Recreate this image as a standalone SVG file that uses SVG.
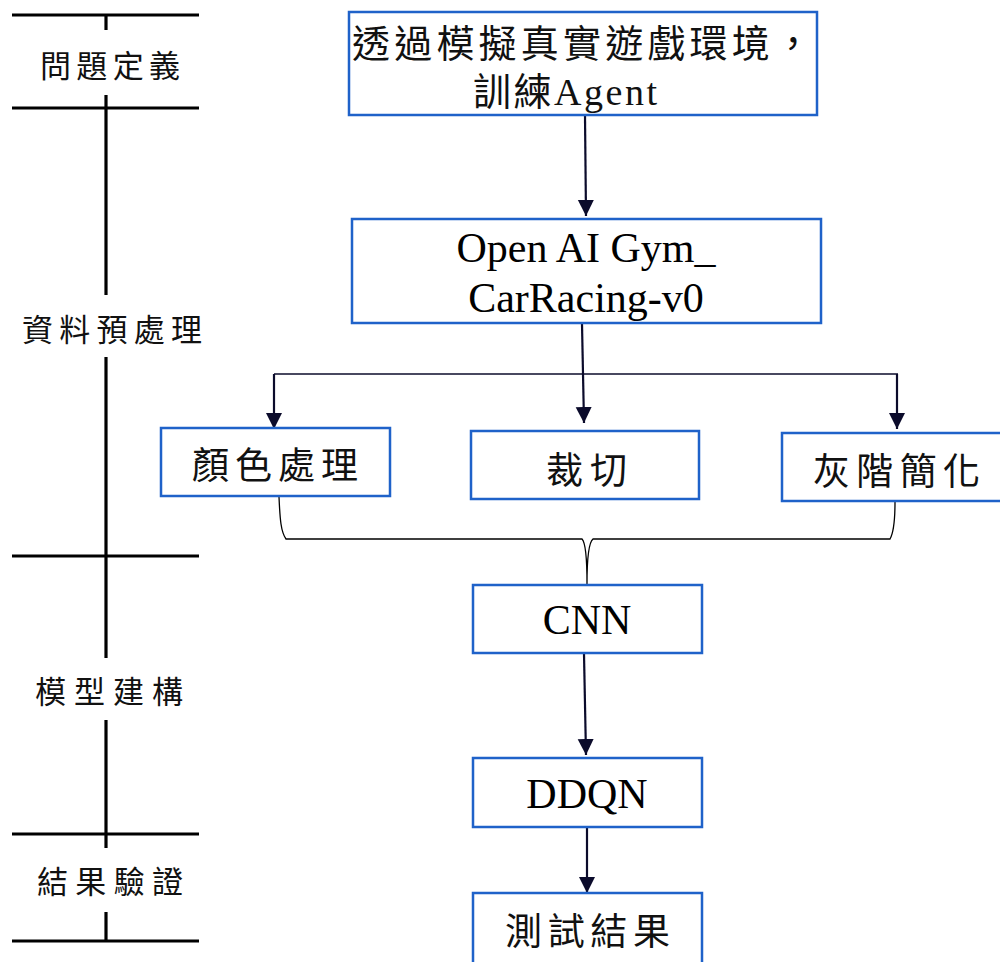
<svg xmlns="http://www.w3.org/2000/svg" width="1000" height="962" viewBox="0 0 1000 962">
  <style>
    .box { fill: #ffffff; stroke: #1f62c9; stroke-width: 2.5; }
    .t { font-family: "Liberation Serif", "Noto Sans CJK TC", serif; fill: #000000; }
    .cjk { font-family: "Liberation Serif", "Noto Sans CJK TC", sans-serif; fill: #111111; }
    .phase { font-family: "Noto Sans CJK TC", sans-serif; font-size: 31px; fill: #111111; }
    .axis { stroke: #000000; stroke-width: 3.2; fill: none; }
    .flow { stroke: #0b0b2b; stroke-width: 2.2; fill: none; }
    .thin { stroke: #0b0b2b; stroke-width: 1.4; fill: none; }
    .brace { stroke: #000000; stroke-width: 1.3; fill: none; }
  </style>
  <defs>
    <marker id="arrow" markerUnits="userSpaceOnUse" markerWidth="16" markerHeight="18" refX="16" refY="8" orient="auto">
      <polygon points="0,0 16,8 0,16" fill="#0b0b2b"/>
    </marker>
  </defs>

  <rect width="1000" height="962" fill="#ffffff"/>

  <!-- phase timeline on the left -->
  <g id="timeline">
    <line class="axis" x1="12" y1="15" x2="199" y2="15"/>
    <line class="axis" x1="12" y1="108" x2="199" y2="108"/>
    <line class="axis" x1="12" y1="556" x2="199" y2="556"/>
    <line class="axis" x1="12" y1="834" x2="199" y2="834"/>
    <line class="axis" x1="12" y1="941" x2="199" y2="941"/>
    <line class="axis" x1="106" y1="15" x2="106" y2="30"/>
    <line class="axis" x1="106" y1="95" x2="106" y2="295"/>
    <line class="axis" x1="106" y1="357" x2="106" y2="658"/>
    <line class="axis" x1="106" y1="720" x2="106" y2="848"/>
    <line class="axis" x1="106" y1="912" x2="106" y2="941"/>
  </g>
  <g id="phase-define"><text class="phase" x="40" y="77" textLength="140" lengthAdjust="spacing">問題定義</text></g>
  <g id="phase-preprocess"><text class="phase" x="22" y="341" textLength="180" lengthAdjust="spacing">資料預處理</text></g>
  <g id="phase-model"><text class="phase" x="35" y="703" textLength="148" lengthAdjust="spacing">模型建構</text></g>
  <g id="phase-verify"><text class="phase" x="37" y="893" textLength="146" lengthAdjust="spacing">結果驗證</text></g>

  <!-- connectors -->
  <g id="connectors">
    <line class="flow" x1="585" y1="116" x2="586" y2="216" marker-end="url(#arrow)"/>
    <line class="flow" x1="582" y1="324" x2="584" y2="423" marker-end="url(#arrow)"/>
    <line class="thin" x1="274" y1="374" x2="898" y2="374"/>
    <line class="flow" x1="274" y1="374" x2="274" y2="429" marker-end="url(#arrow)"/>
    <line class="flow" x1="897" y1="374" x2="897" y2="429" marker-end="url(#arrow)"/>
    <path class="brace" d="M279,497 C280,520 281,532 286,539 L582,539 C586,543 587,560 587,584 C587,560 588,543 593,539 L890,539 C894,532 895,520 895,502"/>
    <line class="flow" x1="584" y1="654" x2="586" y2="755" marker-end="url(#arrow)"/>
    <line class="flow" x1="587" y1="828" x2="587" y2="893" marker-end="url(#arrow)"/>
  </g>

  <!-- process nodes -->
  <g id="node-goal">
    <rect class="box" x="349" y="12" width="468" height="103"/>
    <text class="cjk" x="352" y="57" font-size="38" textLength="460" lengthAdjust="spacing">透過模擬真實遊戲環境，</text>
    <text class="cjk" x="473" y="105" font-size="38" textLength="184" lengthAdjust="spacing">訓練Agent</text>
  </g>
  <g id="node-env">
    <rect class="box" x="352" y="219" width="469" height="104"/>
    <text class="t" x="586" y="262" font-size="42" text-anchor="middle">Open AI Gym_</text>
    <text class="t" x="586" y="312" font-size="42" text-anchor="middle">CarRacing-v0</text>
  </g>
  <g id="node-color">
    <rect class="box" x="161" y="428" width="229" height="68"/>
    <text class="cjk" x="192" y="479" font-size="37" textLength="166" lengthAdjust="spacing">顏色處理</text>
  </g>
  <g id="node-crop">
    <rect class="box" x="471" y="431" width="228" height="68"/>
    <text class="cjk" x="546" y="484" font-size="37" textLength="81" lengthAdjust="spacing">裁切</text>
  </g>
  <g id="node-gray">
    <rect class="box" x="782" y="433" width="230" height="68"/>
    <text class="cjk" x="813" y="485" font-size="37" textLength="167" lengthAdjust="spacing">灰階簡化</text>
  </g>
  <g id="node-cnn">
    <rect class="box" x="473" y="585" width="229" height="68"/>
    <text class="t" x="587" y="634" font-size="42" text-anchor="middle">CNN</text>
  </g>
  <g id="node-ddqn">
    <rect class="box" x="473" y="758" width="229" height="69"/>
    <text class="t" x="587" y="808" font-size="42" text-anchor="middle">DDQN</text>
  </g>
  <g id="node-result">
    <rect class="box" x="473" y="893" width="229" height="80"/>
    <text class="cjk" x="505" y="945" font-size="37" textLength="165" lengthAdjust="spacing">測試結果</text>
  </g>
</svg>
